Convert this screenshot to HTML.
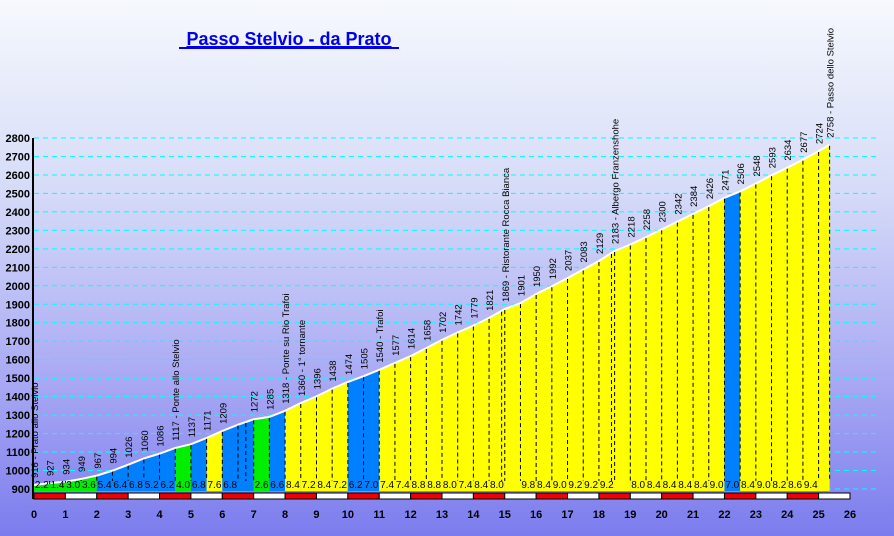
<!DOCTYPE html>
<html><head><meta charset="utf-8"><style>
html,body{margin:0;padding:0;width:894px;height:536px;overflow:hidden}
svg{display:block}
text{font-family:"Liberation Sans",sans-serif}
</style></head><body>
<svg id="c" width="894" height="536" viewBox="0 0 894 536">
<defs><linearGradient id="bg" x1="0" y1="0" x2="0" y2="1">
<stop offset="0" stop-color="#f6f9fd"/><stop offset="0.35" stop-color="#d6dcf8"/><stop offset="0.7" stop-color="#aaaaf4"/><stop offset="1" stop-color="#7c7cee"/></linearGradient></defs>
<rect x="0" y="0" width="894" height="536" fill="url(#bg)"/>
<text x="289" y="45" font-size="18" font-weight="bold" fill="#0000ee" text-anchor="middle" text-decoration="underline">Passo Stelvio - da Prato</text>
<line x1="179" y1="48" x2="399" y2="48" stroke="#0000ee" stroke-width="2"/>
<g id="grid"></g><g id="fills"></g><g id="dashes"></g><g id="labels"></g><g id="axes"></g>
</svg>
<script>
const kms=[0,0.5,1,1.5,2,2.5,3,3.5,4,4.5,5,5.5,6,6.5,7,7.5,8,8.5,9,9.5,10,10.5,11,11.5,12,12.5,13,13.5,14,14.5,15,15.5,16,16.5,17,17.5,18,18.5,19,19.5,20,20.5,21,21.5,22,22.5,23,23.5,24,24.5,25,25.35];
const alts=[916,927,934,949,967,994,1026,1060,1086,1117,1137,1171,1209,1243,1272,1285,1318,1360,1396,1438,1474,1505,1540,1577,1614,1658,1702,1742,1779,1821,1869,1901,1950,1992,2037,2083,2129,2183,2218,2258,2300,2342,2384,2426,2471,2506,2548,2593,2634,2677,2724,2758];
const altLabels=["916 - Prato allo Stelvio","927","934","949","967","994","1026","1060","1086","1117 - Ponte allo Stelvio","1137","1171","1209","","1272","1285","1318 - Ponte su Rio Trafoi","1360 - 1° tornante","1396","1438","1474","1505","1540 - Trafoi","1577","1614","1658","1702","1742","1779","1821","1869 - Ristorante Rocca Bianca","1901","1950","1992","2037","2083","2129","2183 - Albergo Franzenshohe","2218","2258","2300","2342","2384","2426","2471","2506","2548","2593","2634","2677","2724","2758 - Passo dello Stelvio"];
const grades=["2.2","1.4","3.0","3.6","5.4","6.4","6.8","5.2","6.2","4.0","6.8","7.6","6.8","","2.6","6.6","8.4","7.2","8.4","7.2","6.2","7.0","7.4","7.4","8.8","8.8","8.0","7.4","8.4","8.0","","9.8","8.4","9.0","9.2","9.2","9.2","","8.0","8.4","8.4","8.4","8.4","9.0","7.0","8.4","9.0","8.2","8.6","9.4",""];
const segColors=["g","g","g","g","b","b","b","b","b","g","b","y","b","b","g","b","y","y","y","y","b","b","y","y","y","y","y","y","y","y","y","y","y","y","y","y","y","y","y","y","y","y","y","y","b","y","y","y","y","y","y"];
const extraDashes=[6.75,14.9,18.4];
const yTicks=[900,1000,1100,1200,1300,1400,1500,1600,1700,1800,1900,2000,2100,2200,2300,2400,2500,2600,2700,2800];
const xTicks=[0,1,2,3,4,5,6,7,8,9,10,11,12,13,14,15,16,17,18,19,20,21,22,23,24,25,26];
const NS="http://www.w3.org/2000/svg";
const X=k=>34+k*(816/26), Y=a=>489-(a-900)*(351/1900);
const baseY=491;
const col={g:"#00ee00",b:"#0080ff",y:"#ffff00"};
function mk(tag,attrs,parent,txt){const e=document.createElementNS(NS,tag);for(const k in attrs)e.setAttribute(k,attrs[k]);if(txt!=null)e.textContent=txt;document.getElementById(parent).appendChild(e);return e;}
yTicks.forEach(v=>{
 const l=mk('line',{x1:34,x2:880,y1:Y(v),y2:Y(v),stroke:'#00ffff','stroke-dasharray':'5,4','stroke-width':1},'grid');
 
 
 const t=mk('text',{x:30,y:Y(v)+4,'font-size':11,'font-weight':'bold','text-anchor':'end',fill:'#000'},'axes',v);
 
 
});
for(let i=0;i<kms.length-1;i++){
 const x1=X(kms[i]),x2=X(kms[i+1]);
 const p=mk('polygon',{points:`${x1},${baseY} ${x1},${Y(alts[i])} ${x2},${Y(alts[i+1])} ${x2},${baseY}`,fill:col[segColors[i]]},'fills');
 
 
 if(grades[i]){const t=mk('text',{x:(x1+x2)/2,y:488,'font-size':10,'text-anchor':'middle',fill:'#000'},'labels',grades[i]);
 
 }
}
const line=mk('polyline',{points:kms.map((k,i)=>X(k)+','+(Y(alts[i])-1)).join(' '),fill:'none',stroke:'#fff','stroke-width':2},'fills');


kms.forEach((k,i)=>{
 if(i>0&&i<kms.length){const d=mk('line',{x1:X(k),x2:X(k),y1:Y(alts[i]),y2:baseY-10,stroke:'#000','stroke-dasharray':'4,3'},'dashes');
 
 }
 if(altLabels[i]){const x=X(k)+4,y=Y(alts[i])-8;
 const t=mk('text',{x:x,y:y,'font-size':9.5,fill:'#000',transform:`rotate(-90 ${x} ${y})`},'labels',altLabels[i]);
 
 }
});
extraDashes.forEach(k=>{
 const i=kms.findIndex(v=>v>k);const a=alts[i-1]+(alts[i]-alts[i-1])*(k-kms[i-1])/(kms[i]-kms[i-1]);
 const d=mk('line',{x1:X(k),x2:X(k),y1:Y(a),y2:baseY-10,stroke:'#000','stroke-dasharray':'4,3'},'dashes');
 
 
});
mk('line',{x1:33,x2:33,y1:138,y2:499,stroke:'#000','stroke-width':2},'axes');
for(let k=0;k<26;k++){
 const r=mk('rect',{x:X(k),y:493,width:X(k+1)-X(k),height:6,fill:k%2?'#fff':'#ee0000',stroke:'#000','stroke-width':1},'axes');
 
 
}
xTicks.forEach(k=>{
 const t=mk('text',{x:X(k),y:518,'font-size':11,'font-weight':'bold','text-anchor':'middle',fill:'#000'},'axes',k);
 
 
});
</script>
</body></html>
